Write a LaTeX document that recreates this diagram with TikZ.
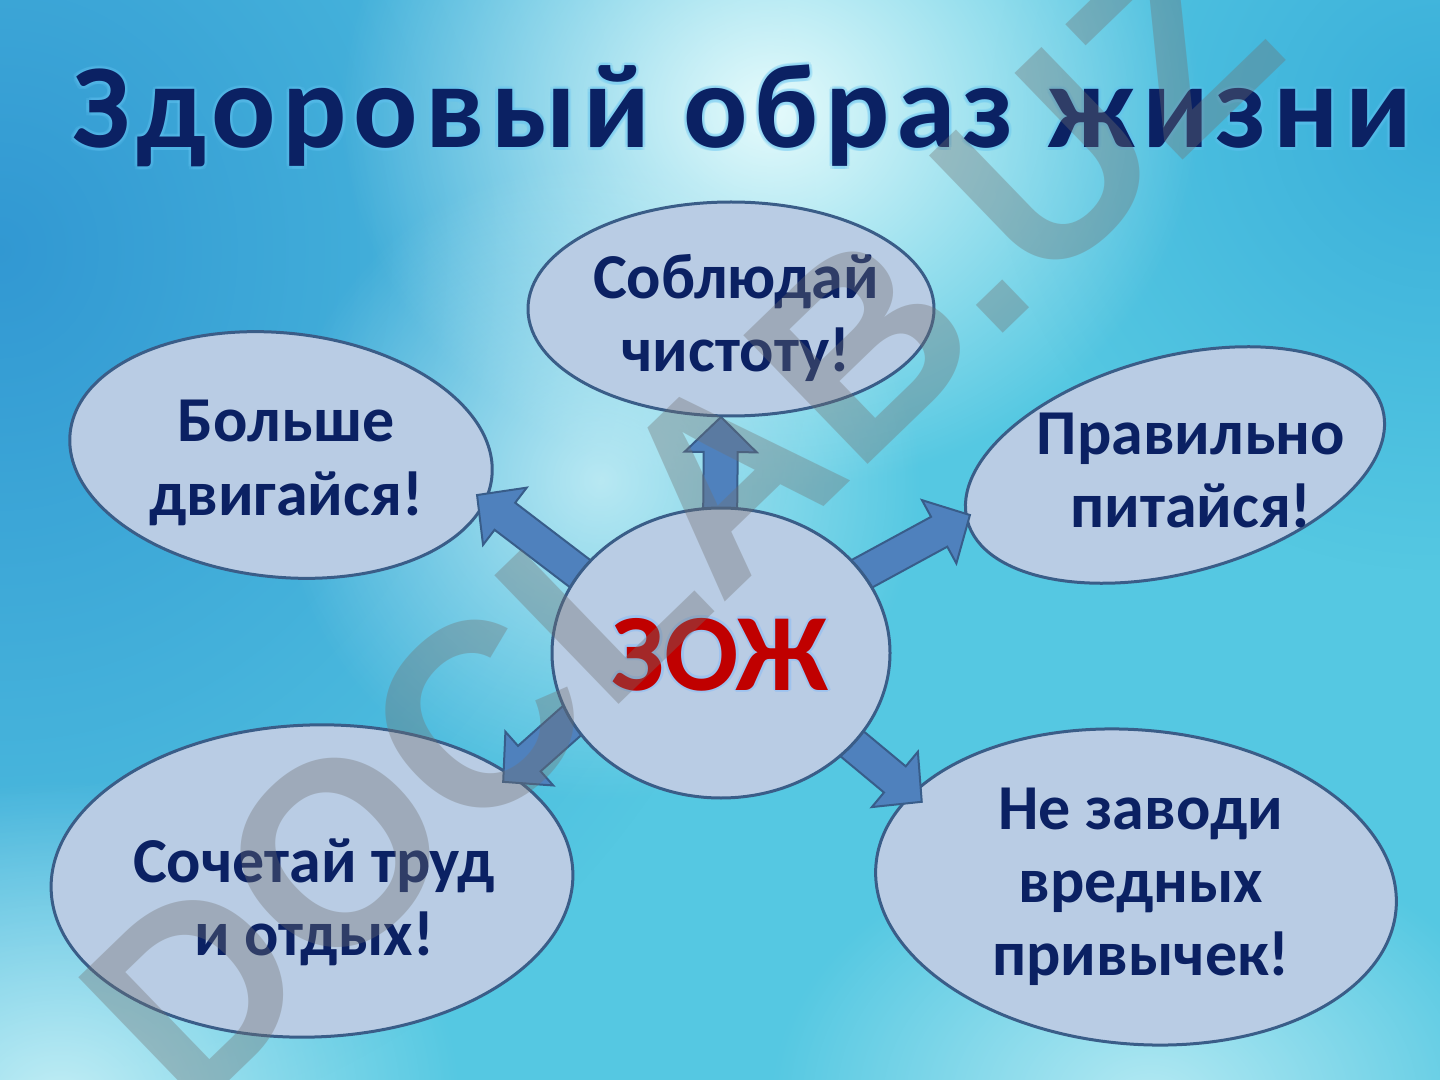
\documentclass[tikz,border=0pt]{standalone}
\usepackage{fontspec}
\setmainfont{Carlito}
\newfontfamily\titlefont[LetterSpace=5.5]{Carlito}
\newfontfamily\wmfont{Liberation Sans}
\usetikzlibrary{calc,fadings,shapes.geometric}
\tikzfading[name=radfade, inner color=transparent!0, outer color=transparent!100]
\definecolor{navy}{HTML}{0B2163}
\definecolor{glowc}{HTML}{62C3F2}
\definecolor{bubc}{HTML}{B9CCE4}
\definecolor{edgec}{HTML}{3A5D88}
\definecolor{arrfill}{HTML}{4F81BD}
\definecolor{arredge}{HTML}{385D8A}
\definecolor{zred}{HTML}{C00000}
\definecolor{zglow}{HTML}{9DC3F0}
\definecolor{bgbase}{HTML}{55C8E2}
\definecolor{bgdark}{HTML}{2E93D1}
\definecolor{bgtr}{HTML}{33A8D8}
\definecolor{bglight}{HTML}{E6FBFC}
\definecolor{wmgray}{HTML}{707070}
\newcommand\blockarrow[2]{%
  \path[barrow] let \p1=(#1), \p2=(#2),
    \n1={atan2(\y2-\y1,\x2-\x1)}, \n2={veclen(\x2-\x1,\y2-\y1)} in
    [shift={(\p1)}, rotate=\n1]
    (0pt,-8.5pt) -- ({\n2*1pt-17.5pt},-8.5pt) -- ({\n2*1pt-17.5pt},-18pt) -- ({\n2*1pt},0pt)
    -- ({\n2*1pt-17.5pt},18pt) -- ({\n2*1pt-17.5pt},8.5pt) -- (0pt,8.5pt) -- cycle;}
\begin{document}
\begin{tikzpicture}[x=0.5pt,y=-0.5pt,
  bub/.style={ellipse, draw=edgec, line width=1.5pt, fill=bubc, inner sep=0pt},
  lbl/.style={font=\bfseries\fontsize{32}{36.5}\selectfont, text=navy, align=center, inner sep=0pt, anchor=base},
  titlestyle/.style={font=\titlefont\bfseries\fontsize{60}{60}\selectfont, inner sep=0pt, anchor=base},
  zstyle/.style={font=\bfseries\fontsize{55}{55}\selectfont, inner sep=0pt, anchor=base},
  barrow/.style={fill=arrfill, draw=arredge, line width=1pt, line join=miter},
  wm/.style={font=\wmfont\bfseries\fontsize{130}{130}\selectfont, text=wmgray, opacity=0.36, rotate=44, inner sep=0pt}]
\useasboundingbox (0,0) rectangle (1440,1080);
% background
\fill[bgbase] (0,0) rectangle (1440,1080);
\begin{scope}
\clip (0,0) rectangle (1440,1080);
\fill[bgdark, opacity=0.9, path fading=radfade] (0,250) ellipse (820 and 900);
\fill[bgtr, opacity=0.8, path fading=radfade] (1440,120) ellipse (450 and 450);
\fill[bglight, path fading=radfade] (770,110) ellipse (430 and 380);
\fill[bglight, opacity=0.7, path fading=radfade] (600,480) ellipse (320 and 320);
\fill[bglight, opacity=0.75, path fading=radfade] (60,1100) ellipse (400 and 320);
\fill[bglight, opacity=0.65, path fading=radfade] (1150,1100) ellipse (380 and 270);
\end{scope}
% title
\foreach \a in {0,45,...,315}
  \node[titlestyle, text=glowc, opacity=0.22, shift={(\a:3)}] at (742,148) {Здоровый образ жизни};
\node[titlestyle, text=navy] (title) at (742,148) {Здоровый образ жизни};
% outer ellipses
\node[bub, minimum width=203pt, minimum height=107pt] (etop) at (731,309) {};
\node[bub, minimum width=212pt, minimum height=122pt, rotate=-6] (eleft) at (281,455) {};
\node[bub, minimum width=215pt, minimum height=108pt, rotate=15] (eright) at (1175,465) {};
\node[bub, minimum width=261pt, minimum height=156pt, rotate=2] (ebl) at (312,881) {};
\node[bub, minimum width=261pt, minimum height=157pt, rotate=-5] (ebr) at (1136,887) {};
% arrow ends
\coordinate (s1) at (720,530); \coordinate (t1) at (721,417);
\coordinate (s2) at (612,598); \coordinate (t2) at (477,495);
\coordinate (s3) at (821,596); \coordinate (t3) at (970,515);
\coordinate (s4) at (630,669); \coordinate (t4) at (503,782);
\coordinate (s5) at (791,693); \coordinate (t5) at (922,802);
\blockarrow{s1}{t1}
\blockarrow{s2}{t2}
\blockarrow{s3}{t3}
\blockarrow{s4}{t4}
\blockarrow{s5}{t5}
% centre
\node[bub, minimum width=169pt, minimum height=145pt] (ec) at (721,653) {};
\foreach \a in {0,45,...,315}
  \node[zstyle, text=zglow, opacity=0.8, shift={(\a:2.5)}] at (720,690) {ЗОЖ};
\node[zstyle, text=zred] (zoj) at (720,690) {ЗОЖ};
% labels (anchored at the baseline of the last line)
\node[lbl] (ltop) at (736,372) {Соблюдай\\чистоту!};
\node[lbl] (lleft) at (286,515) {Больше\\двигайся!};
\node[lbl] (lright) at (1191,527) {Правильно\\питайся!};
\node[lbl] (lbl) at (314,955) {Сочетай труд\\и отдых!};
\node[lbl] (lbr) at (1141,975) {Не заводи\\вредных\\привычек!};
% watermark
\node[wm] (wmark) at (679,522) {DOCLAB.UZ};
\end{tikzpicture}
\end{document}
